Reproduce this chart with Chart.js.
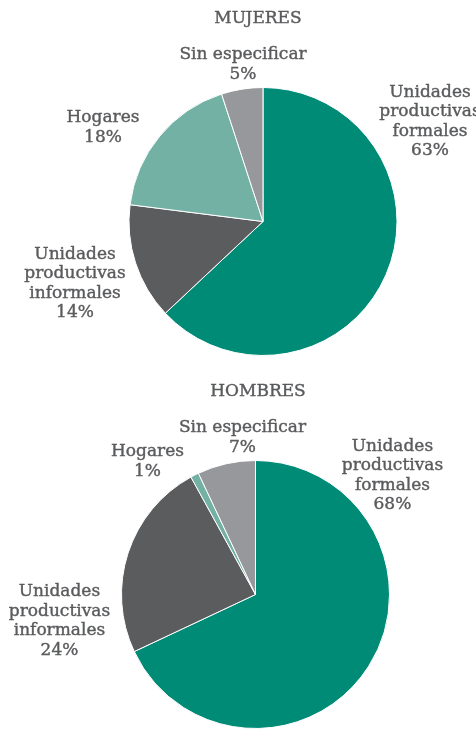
<!DOCTYPE html>
<html>
<head>
<meta charset="utf-8">
<script src="https://cdn.jsdelivr.net/npm/chart.js@4.4.0/dist/chart.umd.min.js"></script>
<style>
  body { margin: 0; background: #fff; width: 476px; height: 729px; overflow: hidden; position: relative; }
  .box { position: absolute; left: 0; width: 476px; }
</style>
</head>
<body>
<div class="box" style="top:0;height:364px"><canvas id="mujeres"></canvas></div>
<div class="box" style="top:364px;height:365px"><canvas id="hombres"></canvas></div>
<script>
// categories, one line per entry
const categories = [
  ['Unidades', 'productivas', 'formales'],
  ['Unidades', 'productivas', 'informales'],
  ['Hogares'],
  ['Sin especificar']
];
const mujeres = [63, 14, 18, 5];
const hombres = [68, 24, 1, 7];

const colors = ['#008b77', '#5b5c5e', '#72b1a4', '#97989b'];
const textColor = '#5a5b5d';
const FONT = '"DejaVu Serif", serif';

// label anchors, in units of the pie radius from its centre
const mujeresLabelPos = [[1.246, -0.746], [-1.403, 0.463], [-1.194, -0.701], [-0.149, -1.172]];
const hombresLabelPos = [[1.022, -0.888], [-1.463, 0.2], [-0.806, -0.993], [-0.097, -1.17]];

const pieLabels = {
  id: 'pieLabels',
  afterDraw(chart, args, opts) {
    const ctx = chart.ctx;
    const arc = chart.getDatasetMeta(0).data[0];
    const cx = arc.x, cy = arc.y, r = arc.outerRadius;
    const values = chart.data.datasets[0].data;
    ctx.save();
    ctx.fillStyle = textColor;
    ctx.strokeStyle = textColor;
    ctx.lineWidth = 0.4;
    ctx.textAlign = 'center';
    ctx.textBaseline = 'middle';
    const put = (t, x, y) => { ctx.fillText(t, x, y); ctx.strokeText(t, x, y); };
    // title
    ctx.font = '17px ' + FONT;
    put(opts.title, 258, cy - 203);
    // slice labels
    ctx.font = '17px ' + FONT;
    const lh = 19.5;
    values.forEach((v, i) => {
      const lines = categories[i].concat([v + '%']);
      const x = cx + opts.pos[i][0] * r;
      const y0 = cy + opts.pos[i][1] * r - (lines.length - 1) * lh / 2;
      lines.forEach((t, j) => put(t, x, y0 + j * lh));
    });
    ctx.restore();
  }
};

function makePie(id, values, title, pos, padding) {
  return new Chart(document.getElementById(id), {
    type: 'pie',
    data: {
      labels: categories.map(c => c.join(' ')),
      datasets: [{
        data: values,
        backgroundColor: colors,
        borderColor: '#ffffff',
        borderWidth: 1
      }]
    },
    options: {
      responsive: true,
      maintainAspectRatio: false,
      animation: false,
      layout: { padding: padding },
      plugins: {
        legend: { display: false },
        tooltip: { enabled: false },
        pieLabels: { title: title, pos: pos }
      }
    },
    plugins: [pieLabels]
  });
}

makePie('mujeres', mujeres, 'MUJERES', mujeresLabelPos, { left: 128, right: 78, top: 87, bottom: 8 });
makePie('hombres', hombres, 'HOMBRES', hombresLabelPos, { left: 121, right: 86, top: 96, bottom: 0 });
</script>
</body>
</html>
